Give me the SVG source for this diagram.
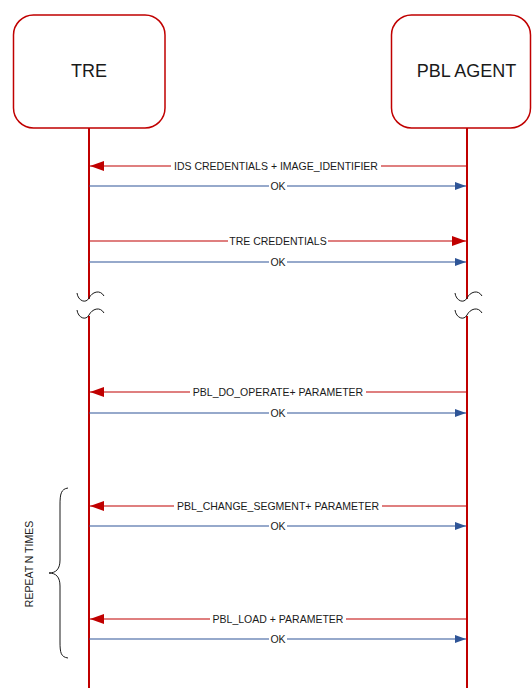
<svg xmlns="http://www.w3.org/2000/svg" width="532" height="688" viewBox="0 0 532 688">
<defs>
<style>
.box{fill:#fff;stroke:#C00000;stroke-width:1.5}
.title{font-family:"Liberation Sans",Arial,sans-serif;font-size:18px;fill:#1a1a1a;text-anchor:middle}
.life{stroke:#C00000;stroke-width:2;fill:none}
.brk{stroke:#1a1a1a;stroke-width:1;fill:none}
.req{stroke:#C00000;stroke-width:1.2;fill:none}
.rsp{stroke:#2F5597;stroke-width:1.2;fill:none}
.lbl{font-family:"Liberation Sans",Arial,sans-serif;font-size:10.5px;fill:#1a1a1a;text-anchor:middle}
.bg{fill:#fff}
</style>
<marker id="ar" viewBox="0 0 14 10" refX="14" refY="5" markerWidth="14" markerHeight="10" markerUnits="userSpaceOnUse" orient="auto"><path d="M0,0 L14,5 L0,10 Z" fill="#C00000"/></marker>
<marker id="ab" viewBox="0 0 11 8" refX="11" refY="4" markerWidth="11" markerHeight="8" markerUnits="userSpaceOnUse" orient="auto"><path d="M0,0 L11,4 L0,8 Z" fill="#2F5597"/></marker>
</defs>
<rect width="532" height="688" fill="#fff"/>
<g id="tre">
<rect class="box" x="13.5" y="15" width="151.5" height="113" rx="20"/>
<text class="title" x="89" y="77">TRE</text>
<path class="life" d="M89,128 V299 M89,316 V688"/>
<path class="brk" d="M77,293 C78,301 86,304 89,298 C92,292 100,289 104,296"/>
<path class="brk" d="M77,310 C78,318 86,321 89,315 C92,309 100,306 104,313"/>
</g>
<g id="pbl">
<rect class="box" x="391.5" y="15" width="139" height="113" rx="20"/>
<text class="title" x="466.5" y="77">PBL AGENT</text>
<path class="life" d="M467,128 V299 M467,316 V688"/>
<path class="brk" d="M455,293 C456,301 464,304 467,298 C470,292 478,289 482,296"/>
<path class="brk" d="M455,310 C456,318 464,321 467,315 C470,309 478,306 482,313"/>
</g>
<g id="connectors">
<line class="req" x1="467" y1="166" x2="90" y2="166" marker-end="url(#ar)"/>
<rect class="bg" x="171" y="160" width="210" height="12"/>
<text class="lbl" x="276" y="169.8">IDS CREDENTIALS + IMAGE_IDENTIFIER</text>
<line class="rsp" x1="89" y1="186" x2="466" y2="186" marker-end="url(#ab)"/>
<rect class="bg" x="269" y="180" width="18" height="12"/>
<text class="lbl" x="278" y="189.8">OK</text>
<line class="req" x1="89" y1="241" x2="466" y2="241" marker-end="url(#ar)"/>
<rect class="bg" x="228" y="235" width="100" height="12"/>
<text class="lbl" x="278" y="244.8">TRE CREDENTIALS</text>
<line class="rsp" x1="89" y1="262" x2="466" y2="262" marker-end="url(#ab)"/>
<rect class="bg" x="269" y="256" width="18" height="12"/>
<text class="lbl" x="278" y="265.8">OK</text>
<line class="req" x1="467" y1="392" x2="90" y2="392" marker-end="url(#ar)"/>
<rect class="bg" x="190" y="386" width="176" height="12"/>
<text class="lbl" x="278" y="395.8">PBL_DO_OPERATE+ PARAMETER</text>
<line class="rsp" x1="89" y1="413" x2="466" y2="413" marker-end="url(#ab)"/>
<rect class="bg" x="269" y="407" width="18" height="12"/>
<text class="lbl" x="278" y="416.8">OK</text>
<line class="req" x1="467" y1="506" x2="90" y2="506" marker-end="url(#ar)"/>
<rect class="bg" x="174" y="500" width="208" height="12"/>
<text class="lbl" x="278" y="509.8">PBL_CHANGE_SEGMENT+ PARAMETER</text>
<line class="rsp" x1="89" y1="526" x2="466" y2="526" marker-end="url(#ab)"/>
<rect class="bg" x="269" y="520" width="18" height="12"/>
<text class="lbl" x="278" y="529.8">OK</text>
<line class="req" x1="467" y1="619" x2="90" y2="619" marker-end="url(#ar)"/>
<rect class="bg" x="210" y="613" width="136" height="12"/>
<text class="lbl" x="278" y="622.8">PBL_LOAD + PARAMETER</text>
<line class="rsp" x1="89" y1="639" x2="466" y2="639" marker-end="url(#ab)"/>
<rect class="bg" x="269" y="633" width="18" height="12"/>
<text class="lbl" x="278" y="642.8">OK</text>
</g>
<g id="repeat">
<path class="brk" d="M68,488 C61,489 60,494 60,505 L60,560 C60,569 56,573 49,573 C56,573 60,577 60,586 L60,642 C60,653 61,657 68,658"/>
<text class="lbl" transform="translate(33,564) rotate(-90)" x="0" y="0">REPEAT N TIMES</text>
</g>
</svg>
